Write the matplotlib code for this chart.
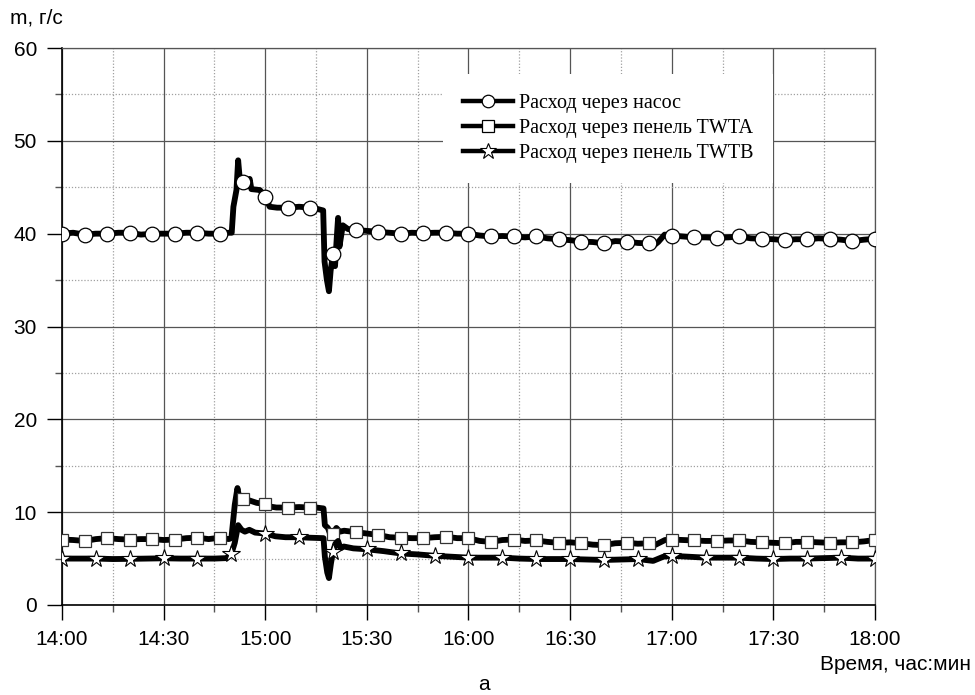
import matplotlib
matplotlib.use('Agg')
import matplotlib.pyplot as plt
from matplotlib.ticker import MultipleLocator, FixedLocator
from matplotlib.lines import Line2D

# ---------------- data (time in minutes from 14:00) ----------------
x_tick_labels = ['14:00', '14:30', '15:00', '15:30', '16:00', '16:30', '17:00', '17:30', '18:00']
x_tick_pos = [0, 30, 60, 90, 120, 150, 180, 210, 240]

series_names = ['Расход через насос', 'Расход через пенель TWTA', 'Расход через пенель TWTB']

pump_t = [0, 3.3, 6.67, 10.0, 13.33, 16.7, 20.0, 23.3, 26.67, 30.0, 33.33, 36.7, 40.0, 43.3,
          46.67, 49.2, 50.1, 50.6, 51.5, 52.0, 52.5, 53.33, 54.6, 55.4, 55.9, 58.4, 60.0, 61.3,
          63.5, 66.67, 70.0, 73.33, 75.0, 77.1, 77.5, 78.2, 78.8, 79.3, 80.0, 80.6, 81.1, 81.5,
          81.9, 82.9, 84.4, 86.67, 90.0, 93.33, 96.7, 100.0, 103.3, 106.67, 110.0, 113.33, 116.7,
          120.0, 123.3, 126.67, 130.0, 133.33, 136.7, 140.0, 143.3, 146.67, 150.0, 153.33, 156.7,
          160.0, 163.3, 166.67, 170.0, 173.33, 174.8, 176.0, 177.9, 180.0, 183.3, 186.67, 190.0,
          193.33, 196.7, 200.0, 203.3, 206.67, 210.0, 213.33, 216.7, 220.0, 223.3, 226.67, 230.0,
          233.33, 236.7, 240.0]
pump_v = [40.0, 40.1, 39.9, 40.0, 40.0, 40.1, 40.1, 39.9, 40.0, 40.0, 40.0, 40.1, 40.1, 40.0,
          40.0, 40.1, 40.1, 42.9, 44.7, 47.9, 45.8, 45.6, 45.1, 45.9, 44.8, 44.7, 44.0, 42.9,
          42.8, 42.8, 42.9, 42.8, 42.7, 42.5, 37.0, 35.0, 33.8, 36.0, 37.8, 36.5, 39.5, 41.7,
          38.6, 40.9, 40.5, 40.4, 40.3, 40.2, 40.1, 40.0, 40.1, 40.05, 40.1, 40.1, 40.0,
          40.0, 39.8, 39.7, 39.75, 39.7, 39.6, 39.7, 39.5, 39.4, 39.3, 39.15, 39.1,
          38.95, 39.2, 39.15, 39.0, 38.95, 38.75, 39.1, 39.9, 39.8, 39.7, 39.6, 39.6,
          39.55, 39.6, 39.7, 39.5, 39.45, 39.4, 39.3, 39.4, 39.4, 39.5, 39.45, 39.35,
          39.2, 39.35, 39.45]

twta_t = [0, 3.3, 6.67, 10.0, 13.33, 16.7, 20.0, 23.3, 26.67, 30.0, 33.33, 36.7, 40.0, 43.3,
          46.67, 49.2, 50.0, 50.5, 51.0, 51.8, 52.3, 53.33, 55.0, 57.5, 60.0, 61.5, 63.3, 66.67,
          70.0, 73.33, 75.0, 77.2, 77.6, 78.5, 79.2, 80.0, 81.0, 82.0, 83.3, 86.67, 90.0, 93.33,
          96.7, 100.0, 103.3, 106.67, 110.0, 113.33, 116.7, 120.0, 123.3, 126.67, 130.0, 133.33,
          136.7, 140.0, 143.3, 146.67, 150.0, 153.33, 156.7, 160.0, 163.3, 166.67, 170.0, 173.33,
          175.0, 178.0, 180.0, 183.3, 186.67, 190.0, 193.33, 196.7, 200.0, 203.3, 206.67, 210.0,
          213.33, 216.7, 220.0, 223.3, 226.67, 230.0, 233.33, 236.7, 240.0]
twta_v = [7.05, 7.0, 6.9, 7.1, 7.2, 7.1, 7.05, 7.1, 7.1, 7.0, 7.05, 7.2, 7.25, 7.1,
          7.25, 7.1, 7.2, 9.0, 10.8, 12.6, 11.6, 11.4, 11.3, 11.0, 10.9, 10.6, 10.5, 10.5,
          10.55, 10.5, 10.5, 10.4, 8.6, 8.3, 7.6, 7.7, 8.3, 7.9, 8.0, 7.85, 7.7, 7.55,
          7.3, 7.25, 7.2, 7.2, 7.3, 7.35, 7.2, 7.2, 6.9, 6.8, 7.0, 7.05,
          6.9, 6.95, 6.8, 6.7, 6.75, 6.65, 6.5, 6.45, 6.65, 6.7, 6.6, 6.65,
          6.45, 7.0, 7.05, 7.0, 6.95, 6.9, 6.9, 6.95, 6.95, 6.8, 6.75, 6.7,
          6.65, 6.8, 6.8, 6.75, 6.7, 6.75, 6.75, 6.85, 7.0]

twtb_t = [0, 5.0, 10.0, 15.0, 20.0, 25.0, 30.0, 35.0, 40.0, 45.0, 48.5, 50.0, 51.0, 52.0, 53.0,
          54.0, 55.3, 57.0, 60.0, 63.0, 66.0, 70.0, 73.0, 77.2, 77.6, 78.3, 78.8, 79.4, 80.0,
          80.7, 81.5, 82.2, 83.2, 86.0, 90.0, 95.0, 100.0, 105.0, 110.0, 115.0, 120.0, 125.0,
          130.0, 135.0, 140.0, 145.0, 150.0, 155.0, 160.0, 165.0, 170.0, 174.5, 177.5, 180.0,
          185.0, 190.0, 195.0, 200.0, 205.0, 210.0, 215.0, 220.0, 225.0, 230.0, 235.0, 240.0]
twtb_v = [5.0, 5.0, 5.0, 4.95, 4.97, 5.0, 5.03, 5.0, 5.0, 5.0, 5.05, 5.5, 6.7, 8.6, 8.1,
          7.9, 8.1, 7.8, 7.7, 7.4, 7.3, 7.3, 7.25, 7.2, 5.2, 3.5, 2.9, 4.5, 5.75,
          6.6, 6.9, 6.1, 6.3, 6.1, 6.0, 5.8, 5.55, 5.45, 5.3, 5.2, 5.1, 5.1,
          5.1, 5.0, 4.95, 4.95, 4.95, 4.9, 4.85, 4.9, 4.95, 4.75, 5.2, 5.3,
          5.2, 5.1, 5.1, 5.1, 5.0, 4.95, 5.0, 5.0, 5.05, 5.1, 5.0, 5.0]

circle_step = 20 / 3   # marker spacing of the first two series, minutes
star_step = 10         # marker spacing of the third series, minutes


def mark_idx(ts, step):
    out = []
    for i, t in enumerate(ts):
        q = t / step
        if abs(q - round(q)) < 0.01:
            out.append(i)
    return out


# ---------------- figure ----------------
W, H = 975, 695
fig = plt.figure(figsize=(W / 100, H / 100), dpi=100)
L, R, T, B = 62, 875, 48, 605
ax = fig.add_axes([L / W, 1 - B / H, (R - L) / W, (B - T) / H])

SANS = ['Liberation Sans', 'DejaVu Sans']
SERIF = ['Liberation Serif', 'DejaVu Serif']

lw = 4.2
ax.plot(pump_t, pump_v, color='black', lw=lw, marker='o', ms=10.5, mfc='white', mec='black',
        mew=0.9, markevery=mark_idx(pump_t, circle_step), zorder=3, solid_joinstyle='round')
ax.plot(twta_t, twta_v, color='black', lw=lw, marker='s', ms=8.5, mfc='white', mec='#333333',
        mew=0.9, markevery=mark_idx(twta_t, circle_step), zorder=3, solid_joinstyle='round')
ax.plot(twtb_t, twtb_v, color='black', lw=lw, marker='*', ms=13, mfc='white', mec='black',
        mew=0.8, markevery=mark_idx(twtb_t, star_step), zorder=4, solid_joinstyle='round')

ax.set_xlim(0, 240)
ax.set_ylim(0, 60)
ax.xaxis.set_major_locator(FixedLocator(x_tick_pos))
ax.set_xticklabels(x_tick_labels)
ax.xaxis.set_minor_locator(MultipleLocator(15))
ax.yaxis.set_major_locator(MultipleLocator(10))
ax.yaxis.set_minor_locator(MultipleLocator(5))

ax.grid(which='major', color='#555555', lw=0.9, ls='-', zorder=1)
ax.grid(which='minor', color='#a0a0a0', lw=0.9, ls=(0, (1, 1.5)), zorder=1)
ax.set_axisbelow(True)

ax.tick_params(which='major', direction='out', length=11, width=1, color='black', pad=7,
               labelsize=15)
ax.tick_params(which='minor', direction='out', length=5, width=1, color='#555555')
for lab in ax.get_xticklabels() + ax.get_yticklabels():
    lab.set_fontfamily(SANS)

for s in ['left', 'bottom']:
    ax.spines[s].set_color('black')
    ax.spines[s].set_linewidth(1.2)
for s in ['top', 'right']:
    ax.spines[s].set_color('#555555')
    ax.spines[s].set_linewidth(0.9)

# legend
handles = [
    Line2D([], [], color='black', lw=3.2, marker='o', ms=9, mfc='white', mec='black', mew=0.9),
    Line2D([], [], color='black', lw=3.2, marker='s', ms=8, mfc='white', mec='black', mew=0.9),
    Line2D([], [], color='black', lw=3.2, marker='*', ms=12, mfc='white', mec='black', mew=0.8),
]
leg = ax.legend(handles, series_names, loc='upper left',
                bbox_to_anchor=((443 - L) / (R - L), 1 - (74 - T) / (B - T)),
                prop={'family': SERIF, 'size': 14.5}, frameon=True, fancybox=False,
                facecolor='white', edgecolor='none', framealpha=1.0, handlelength=2.5,
                handletextpad=0.25, labelspacing=0.28, borderpad=1.0, borderaxespad=0,
                numpoints=1)
leg.set_zorder(10)

fig.text(10 / W, 1 - 18 / H, 'm, г/с', fontsize=15, family=SANS, ha='left', va='center')
fig.text(971 / W, 1 - 664 / H, 'Время, час:мин', fontsize=15, family=SANS, ha='right',
         va='center')
fig.text(484 / W, 1 - 684 / H, 'а', fontsize=15, family=SANS, ha='center', va='center')

fig.savefig('out.png', dpi=100)
